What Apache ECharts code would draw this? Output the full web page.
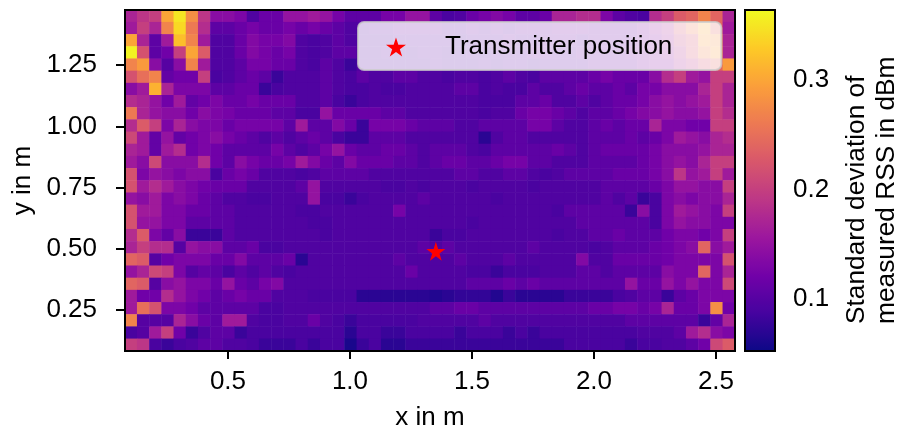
<!DOCTYPE html>
<html><head><meta charset="utf-8">
<style>html,body{margin:0;padding:0;background:#fff}#c{width:900px;height:430px}</style>
<script src="https://cdn.jsdelivr.net/npm/echarts@6/dist/echarts.min.js"></script>
</head><body><div id="c"></div>
<script>
const xCells=[.10,.15,.20,.25,.30,.35,.40,.45,.50,.55,.60,.65,.70,.75,.80,.85,.90,.95,1.00,1.05,1.10,1.15,1.20,1.25,1.30,1.35,1.40,1.45,1.50,1.55,1.60,1.65,1.70,1.75,1.80,1.85,1.90,1.95,2.00,2.05,2.10,2.15,2.20,2.25,2.30,2.35,2.40,2.45,2.50,2.55];
const yCells=[1.45,1.40,1.35,1.30,1.25,1.20,1.15,1.10,1.05,1.00,.95,.90,.85,.80,.75,.70,.65,.60,.55,.50,.45,.40,.35,.30,.25,.20,.15,.10];
const row00=[.17,.19,.20,.30,.35,.28,.19,.14,.14,.13,.095,.115,.115,.15,.15,.16,.15,.125,.105,.105,.105,.125,.125,.15,.15,.105,.09,.095,.115,.125,.135,.125,.105,.105,.115,.17,.17,.18,.18,.13,.105,.095,.09,.18,.20,.23,.24,.27,.24,.17];
const row01=[.16,.20,.17,.27,.34,.26,.18,.105,.105,.115,.125,.115,.115,.125,.115,.125,.115,.105,.095,.095,.105,.105,.115,.115,.115,.115,.105,.105,.115,.105,.115,.105,.115,.115,.115,.125,.125,.125,.115,.115,.115,.115,.13,.15,.17,.22,.26,.30,.24,.16];
const row02=[.30,.17,.105,.16,.32,.27,.16,.095,.095,.115,.135,.125,.125,.135,.095,.09,.095,.105,.095,.095,.095,.095,.105,.105,.105,.105,.105,.095,.105,.105,.105,.115,.105,.105,.115,.115,.115,.105,.115,.115,.115,.115,.13,.14,.16,.20,.22,.29,.28,.17];
const row03=[.36,.22,.105,.12,.20,.30,.23,.095,.095,.115,.135,.125,.115,.125,.095,.09,.095,.105,.105,.095,.095,.105,.095,.095,.105,.105,.095,.095,.105,.095,.105,.105,.105,.115,.115,.105,.105,.115,.115,.115,.115,.125,.13,.14,.15,.18,.22,.27,.29,.17];
const row04=[.27,.29,.14,.10,.14,.27,.16,.095,.095,.105,.125,.125,.115,.115,.095,.09,.105,.095,.08,.095,.095,.095,.095,.095,.095,.105,.095,.095,.095,.105,.095,.105,.105,.095,.105,.105,.105,.105,.115,.115,.115,.115,.13,.14,.14,.17,.19,.22,.24,.29];
const row05=[.22,.25,.27,.11,.12,.12,.20,.09,.095,.105,.115,.105,.08,.095,.095,.095,.105,.095,.09,.105,.095,.095,.105,.105,.095,.095,.09,.095,.095,.09,.095,.105,.095,.09,.105,.105,.105,.105,.115,.125,.115,.115,.115,.14,.18,.20,.16,.15,.20,.20];
const row06=[.14,.16,.31,.17,.13,.13,.13,.105,.105,.115,.115,.08,.09,.095,.095,.095,.105,.095,.09,.09,.095,.09,.09,.095,.095,.095,.095,.105,.105,.09,.095,.09,.09,.105,.095,.095,.105,.115,.105,.105,.115,.105,.125,.125,.14,.14,.14,.17,.20,.17];
const row07=[.18,.17,.15,.12,.16,.11,.12,.13,.115,.115,.125,.115,.115,.115,.095,.095,.105,.09,.08,.09,.095,.095,.095,.095,.095,.095,.095,.095,.095,.09,.09,.09,.105,.105,.115,.095,.095,.105,.095,.105,.115,.115,.125,.14,.15,.14,.15,.16,.20,.17];
const row08=[.26,.17,.15,.14,.14,.12,.14,.13,.125,.115,.115,.115,.105,.105,.09,.09,.15,.115,.115,.115,.115,.105,.105,.095,.095,.095,.095,.095,.095,.09,.095,.095,.115,.125,.125,.115,.105,.095,.105,.105,.115,.125,.135,.14,.15,.14,.14,.15,.20,.18];
const row09=[.18,.23,.20,.13,.17,.14,.13,.13,.115,.125,.125,.125,.125,.105,.16,.105,.105,.135,.115,.08,.125,.125,.125,.115,.105,.105,.105,.095,.095,.105,.105,.105,.105,.125,.125,.105,.095,.095,.105,.115,.105,.115,.115,.17,.13,.13,.12,.12,.20,.20];
const row10=[.21,.16,.11,.15,.11,.12,.13,.14,.125,.115,.105,.095,.105,.095,.105,.115,.105,.09,.08,.08,.105,.105,.105,.095,.095,.095,.095,.095,.095,.07,.095,.105,.105,.095,.095,.095,.095,.095,.105,.105,.105,.115,.105,.115,.13,.16,.15,.14,.17,.18];
const row11=[.17,.16,.11,.16,.18,.12,.13,.12,.105,.105,.105,.105,.125,.105,.095,.105,.125,.15,.115,.105,.105,.115,.115,.105,.095,.105,.105,.105,.095,.09,.105,.105,.105,.105,.105,.115,.105,.095,.105,.115,.115,.115,.115,.125,.14,.14,.14,.15,.17,.17];
const row12=[.16,.14,.21,.14,.14,.14,.18,.12,.105,.14,.125,.115,.115,.125,.16,.135,.115,.105,.135,.115,.115,.115,.105,.105,.095,.105,.115,.115,.105,.105,.115,.125,.125,.105,.105,.095,.095,.095,.105,.105,.105,.105,.115,.125,.14,.15,.14,.17,.20,.20];
const row13=[.22,.13,.15,.14,.13,.14,.14,.09,.115,.125,.115,.095,.095,.095,.09,.095,.105,.105,.105,.105,.095,.095,.095,.095,.095,.095,.095,.105,.105,.095,.095,.105,.105,.095,.09,.095,.105,.105,.105,.105,.115,.115,.115,.125,.14,.19,.15,.16,.20,.16];
const row14=[.22,.16,.18,.16,.14,.13,.12,.115,.115,.115,.095,.095,.095,.095,.105,.15,.095,.095,.095,.095,.095,.09,.09,.095,.09,.095,.095,.095,.09,.095,.095,.095,.095,.09,.095,.095,.095,.095,.095,.105,.105,.105,.105,.115,.13,.15,.15,.14,.14,.20];
const row15=[.15,.14,.16,.13,.14,.13,.115,.105,.095,.095,.09,.09,.095,.095,.095,.15,.09,.09,.08,.09,.095,.095,.095,.095,.105,.095,.095,.095,.095,.095,.09,.095,.095,.095,.095,.095,.095,.095,.095,.105,.095,.105,.08,.09,.13,.14,.13,.14,.14,.17];
const row16=[.22,.16,.16,.13,.13,.115,.115,.105,.105,.095,.095,.095,.095,.095,.09,.09,.095,.095,.095,.095,.095,.095,.125,.095,.095,.095,.095,.095,.095,.095,.095,.095,.095,.095,.095,.09,.105,.105,.105,.105,.105,.08,.14,.09,.13,.16,.15,.14,.13,.20];
const row17=[.22,.15,.15,.13,.13,.105,.105,.105,.105,.095,.095,.095,.095,.095,.095,.09,.09,.095,.095,.095,.095,.095,.095,.095,.095,.095,.095,.095,.09,.095,.095,.095,.095,.095,.095,.095,.095,.105,.105,.105,.105,.105,.105,.09,.13,.15,.14,.14,.13,.13];
const row18=[.18,.23,.13,.11,.14,.08,.08,.08,.105,.095,.095,.095,.095,.095,.095,.095,.09,.095,.095,.095,.095,.095,.095,.095,.095,.08,.09,.09,.095,.095,.095,.095,.095,.095,.095,.09,.095,.095,.105,.105,.115,.105,.105,.105,.12,.13,.13,.12,.13,.20];
const row19=[.17,.20,.18,.18,.10,.15,.14,.14,.105,.105,.115,.09,.09,.095,.095,.095,.095,.095,.095,.095,.095,.095,.095,.095,.105,.095,.105,.095,.095,.095,.095,.095,.095,.105,.095,.095,.095,.095,.09,.095,.105,.105,.105,.115,.12,.13,.14,.24,.14,.16];
const row20=[.24,.23,.10,.12,.13,.13,.13,.115,.115,.135,.105,.105,.105,.115,.07,.095,.095,.095,.095,.095,.095,.095,.105,.095,.095,.095,.095,.105,.095,.095,.095,.105,.095,.095,.095,.095,.095,.135,.095,.095,.115,.115,.115,.115,.12,.13,.13,.13,.13,.22];
const row21=[.15,.17,.21,.20,.13,.10,.11,.105,.09,.105,.095,.105,.095,.09,.095,.095,.095,.095,.095,.095,.095,.095,.095,.115,.095,.095,.095,.095,.09,.09,.08,.09,.09,.09,.095,.095,.095,.105,.105,.095,.105,.105,.105,.105,.14,.13,.13,.24,.13,.17];
const row22=[.24,.23,.10,.14,.15,.13,.13,.115,.15,.115,.105,.125,.135,.095,.095,.095,.095,.095,.095,.095,.095,.095,.095,.095,.095,.095,.095,.095,.105,.105,.105,.115,.105,.115,.105,.105,.105,.105,.105,.105,.105,.15,.115,.115,.15,.13,.15,.13,.13,.21];
const row23=[.16,.12,.12,.18,.15,.13,.12,.105,.115,.125,.115,.115,.095,.095,.095,.09,.09,.09,.09,.07,.07,.07,.07,.07,.07,.065,.07,.075,.075,.075,.065,.08,.07,.07,.07,.07,.08,.08,.08,.08,.09,.095,.105,.105,.08,.105,.115,.13,.13,.13];
const row24=[.16,.25,.22,.13,.13,.12,.105,.105,.105,.105,.105,.09,.09,.095,.095,.095,.095,.095,.095,.095,.095,.095,.095,.095,.095,.105,.105,.115,.115,.105,.105,.105,.105,.105,.105,.105,.105,.105,.115,.115,.125,.125,.115,.125,.17,.115,.115,.13,.28,.12];
const row25=[.27,.10,.10,.10,.17,.14,.115,.105,.16,.16,.095,.09,.09,.095,.095,.115,.095,.09,.08,.09,.09,.09,.09,.09,.095,.095,.095,.095,.095,.105,.095,.095,.095,.095,.095,.095,.095,.095,.095,.095,.095,.105,.105,.105,.105,.105,.105,.08,.11,.17];
const row26=[.09,.10,.16,.20,.12,.08,.095,.105,.105,.08,.09,.09,.09,.09,.09,.09,.09,.09,.07,.09,.09,.08,.08,.09,.09,.09,.09,.08,.09,.09,.09,.08,.09,.08,.09,.09,.09,.09,.09,.09,.09,.09,.095,.095,.095,.105,.16,.18,.14,.13];
const row27=[.20,.19,.09,.08,.09,.095,.105,.105,.095,.095,.09,.08,.08,.08,.09,.08,.09,.09,.06,.08,.09,.07,.07,.08,.08,.08,.08,.08,.08,.08,.08,.08,.08,.08,.08,.08,.09,.09,.09,.09,.09,.08,.09,.09,.095,.095,.105,.12,.21,.23];
const rows=[row00,row01,row02,row03,row04,row05,row06,row07,row08,row09,row10,row11,row12,row13,row14,row15,row16,row17,row18,row19,row20,row21,row22,row23,row24,row25,row26,row27];
const xTicks=[.5,1,1.5,2,2.5];
const yTicks=[.25,.5,.75,1,1.25];
const cbTicks=[.1,.2,.3];
const transmitter=[1.352,.49];
const plasma=['#0d0887','#46039f','#7201a8','#9c179e','#bd3786','#d8576b','#ed7953','#fb9f3a','#fdca26','#f0f921'];
const star='path://M50 0L61.8 36.3L100 36.3L69.1 58.8L80.9 95.1L50 72.6L19.1 95.1L30.9 58.8L0 36.3L38.2 36.3Z';

const cells=[];
rows.forEach((r,j)=>r.forEach((v,i)=>cells.push([i,j,v])));
const F='"Liberation Sans",Arial,sans-serif', FS=26, FN=26;
const rect={left:125,top:10,width:610,height:341,outerBoundsMode:'none'};
const opt={
 animation:false,backgroundColor:'#fff',
 textStyle:{fontFamily:F},
 graphic:[{type:'text',x:872,y:324,rotation:Math.PI/2,z:10,silent:true,
  style:{text:'Standard deviation of\nmeasured RSS in dBm',fontFamily:F,fontSize:26.3,lineHeight:30,fill:'#000',align:'left',verticalAlign:'middle'}}],
 grid:[
  Object.assign({z:0,show:false},rect),
  Object.assign({z:5,show:true,borderColor:'#000',borderWidth:2,backgroundColor:'transparent'},rect),
  {z:5,left:745,top:10,width:30,height:341,outerBoundsMode:'none',show:true,borderColor:'#000',borderWidth:2,backgroundColor:'transparent'}
 ],
 xAxis:[
  {gridIndex:0,type:'category',data:xCells,show:false},
  {gridIndex:1,type:'value',min:.078,max:2.578,position:'bottom',
   name:'x in m',nameLocation:'middle',nameGap:54,nameTextStyle:{fontFamily:F,fontSize:FN,color:'#000'},
   axisLine:{show:false},splitLine:{show:false},
   axisTick:{show:true,length:8,customValues:xTicks,lineStyle:{color:'#000',width:2}},
   axisLabel:{show:true,customValues:xTicks,margin:18,fontFamily:F,fontSize:FS,color:'#000',formatter:v=>v.toFixed(1)}},
  {gridIndex:2,type:'value',min:0,max:1,show:false}
 ],
 yAxis:[
  {gridIndex:0,type:'category',data:yCells,inverse:true,show:false},
  {gridIndex:1,type:'value',min:.083,max:1.475,position:'left',
   name:'y in m',nameLocation:'middle',nameRotate:90,nameGap:88,nameTextStyle:{fontFamily:F,fontSize:FN,color:'#000'},
   axisLine:{show:false},splitLine:{show:false},
   axisTick:{show:true,length:9,customValues:yTicks,lineStyle:{color:'#000',width:2}},
   axisLabel:{show:true,customValues:yTicks,margin:28,fontFamily:F,fontSize:FS,color:'#000',formatter:v=>v.toFixed(2)}},
  {gridIndex:2,type:'value',min:.0525,max:.364,position:'right',
   axisLine:{show:false},splitLine:{show:false},
   axisTick:{show:true,length:9,customValues:cbTicks,lineStyle:{color:'#000',width:2}},
   axisLabel:{show:true,customValues:cbTicks,margin:18,fontFamily:F,fontSize:FS,color:'#000',formatter:v=>v.toFixed(1)}}
 ],
 visualMap:{type:'continuous',seriesIndex:0,min:.0525,max:.364,left:745,top:10,itemWidth:30,itemHeight:341,padding:0,
  calculable:false,hoverLink:false,text:null,inRange:{color:plasma}},
 legend:{data:[{name:'Transmitter position',icon:star}],selectedMode:false,left:358,top:22,orient:'horizontal',
  itemWidth:36,itemHeight:19,padding:[12,49,10,28],
  backgroundColor:'rgba(255,255,255,0.8)',borderColor:'rgba(204,204,204,0.8)',borderWidth:2,borderRadius:6,z:8,
  textStyle:{fontFamily:F,fontSize:FN,color:'#000',padding:[0,0,0,26]}},
 series:[
  {type:'heatmap',xAxisIndex:0,yAxisIndex:0,data:cells,z:2,silent:true,itemStyle:{borderWidth:0}},
  {type:'scatter',name:'Transmitter position',xAxisIndex:1,yAxisIndex:1,data:[transmitter],symbol:star,symbolSize:19,z:6,
   itemStyle:{color:'#ff0000',opacity:1},silent:true}
 ]
};
const chart=echarts.init(document.getElementById('c'),null,{renderer:'canvas'});
chart.setOption(opt);
</script></body></html>
